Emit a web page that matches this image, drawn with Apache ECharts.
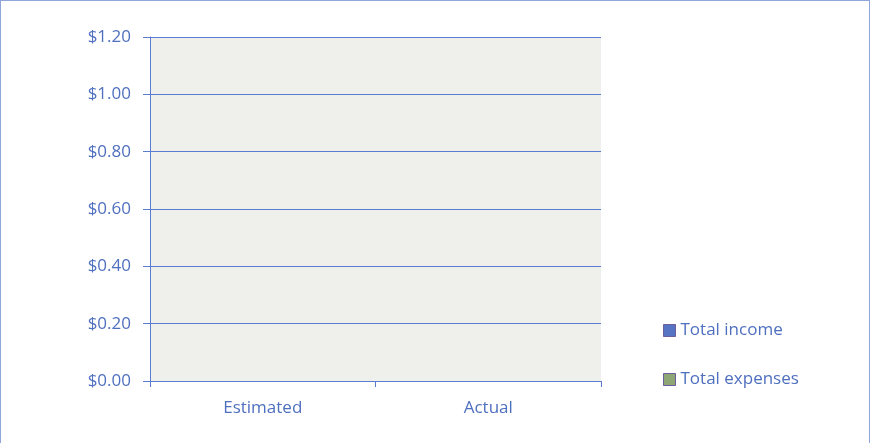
<!DOCTYPE html>
<html>
<head>
<meta charset="utf-8">
<script src="https://cdn.jsdelivr.net/npm/echarts@6/dist/echarts.min.js"></script>
<style>
  html, body { margin: 0; padding: 0; background: #fff; }
  #chart { width: 870px; height: 443px; box-sizing: border-box; border: 1px solid #8fa6dc; border-bottom: none; }
</style>
</head>
<body>
<div id="chart"></div>
<script>
const categories = ['Estimated', 'Actual'];
const totalIncome = [0, 0];
const totalExpenses = [0, 0];
const yMin = 0, yMax = 1.2, yStep = 0.2;

const blue = '#4f6fbf';
const lineBlue = '#5b7bd0';

const chart = echarts.init(document.getElementById('chart'));
chart.setOption({
  animation: false,
  textStyle: { fontFamily: 'Open Sans, Noto Sans, sans-serif' },
  grid: {
    left: 149, right: 268, top: 36, bottom: 62,
    show: true, backgroundColor: '#eff0eb', borderWidth: 0
  },
  legend: {
    orient: 'vertical',
    left: 662, top: 321, padding: 0,
    itemWidth: 12, itemHeight: 12, itemGap: 32,
    icon: 'rect',
    itemStyle: { borderColor: '#6c5e9c', borderWidth: 1 },
    textStyle: { fontSize: 17, color: blue },
    data: ['Total income', 'Total expenses']
  },
  xAxis: {
    type: 'category',
    data: categories,
    axisLine: { lineStyle: { color: lineBlue, width: 1 } },
    axisTick: { show: true, length: 6, lineStyle: { color: lineBlue } },
    axisLabel: { color: blue, fontSize: 17, margin: 19 }
  },
  yAxis: {
    type: 'value',
    min: yMin, max: yMax, interval: yStep,
    axisLine: { show: true, lineStyle: { color: lineBlue, width: 1 } },
    axisTick: { show: true, length: 7, lineStyle: { color: lineBlue } },
    splitLine: { lineStyle: { color: lineBlue, width: 1 } },
    axisLabel: {
      color: blue, fontSize: 17, margin: 19,
      formatter: v => '$' + v.toFixed(2)
    }
  },
  series: [
    {
      name: 'Total income', type: 'bar', data: totalIncome,
      itemStyle: { color: '#5673c4' }
    },
    {
      name: 'Total expenses', type: 'bar', data: totalExpenses,
      itemStyle: { color: '#8ea574' }
    }
  ]
});
</script>
</body>
</html>
